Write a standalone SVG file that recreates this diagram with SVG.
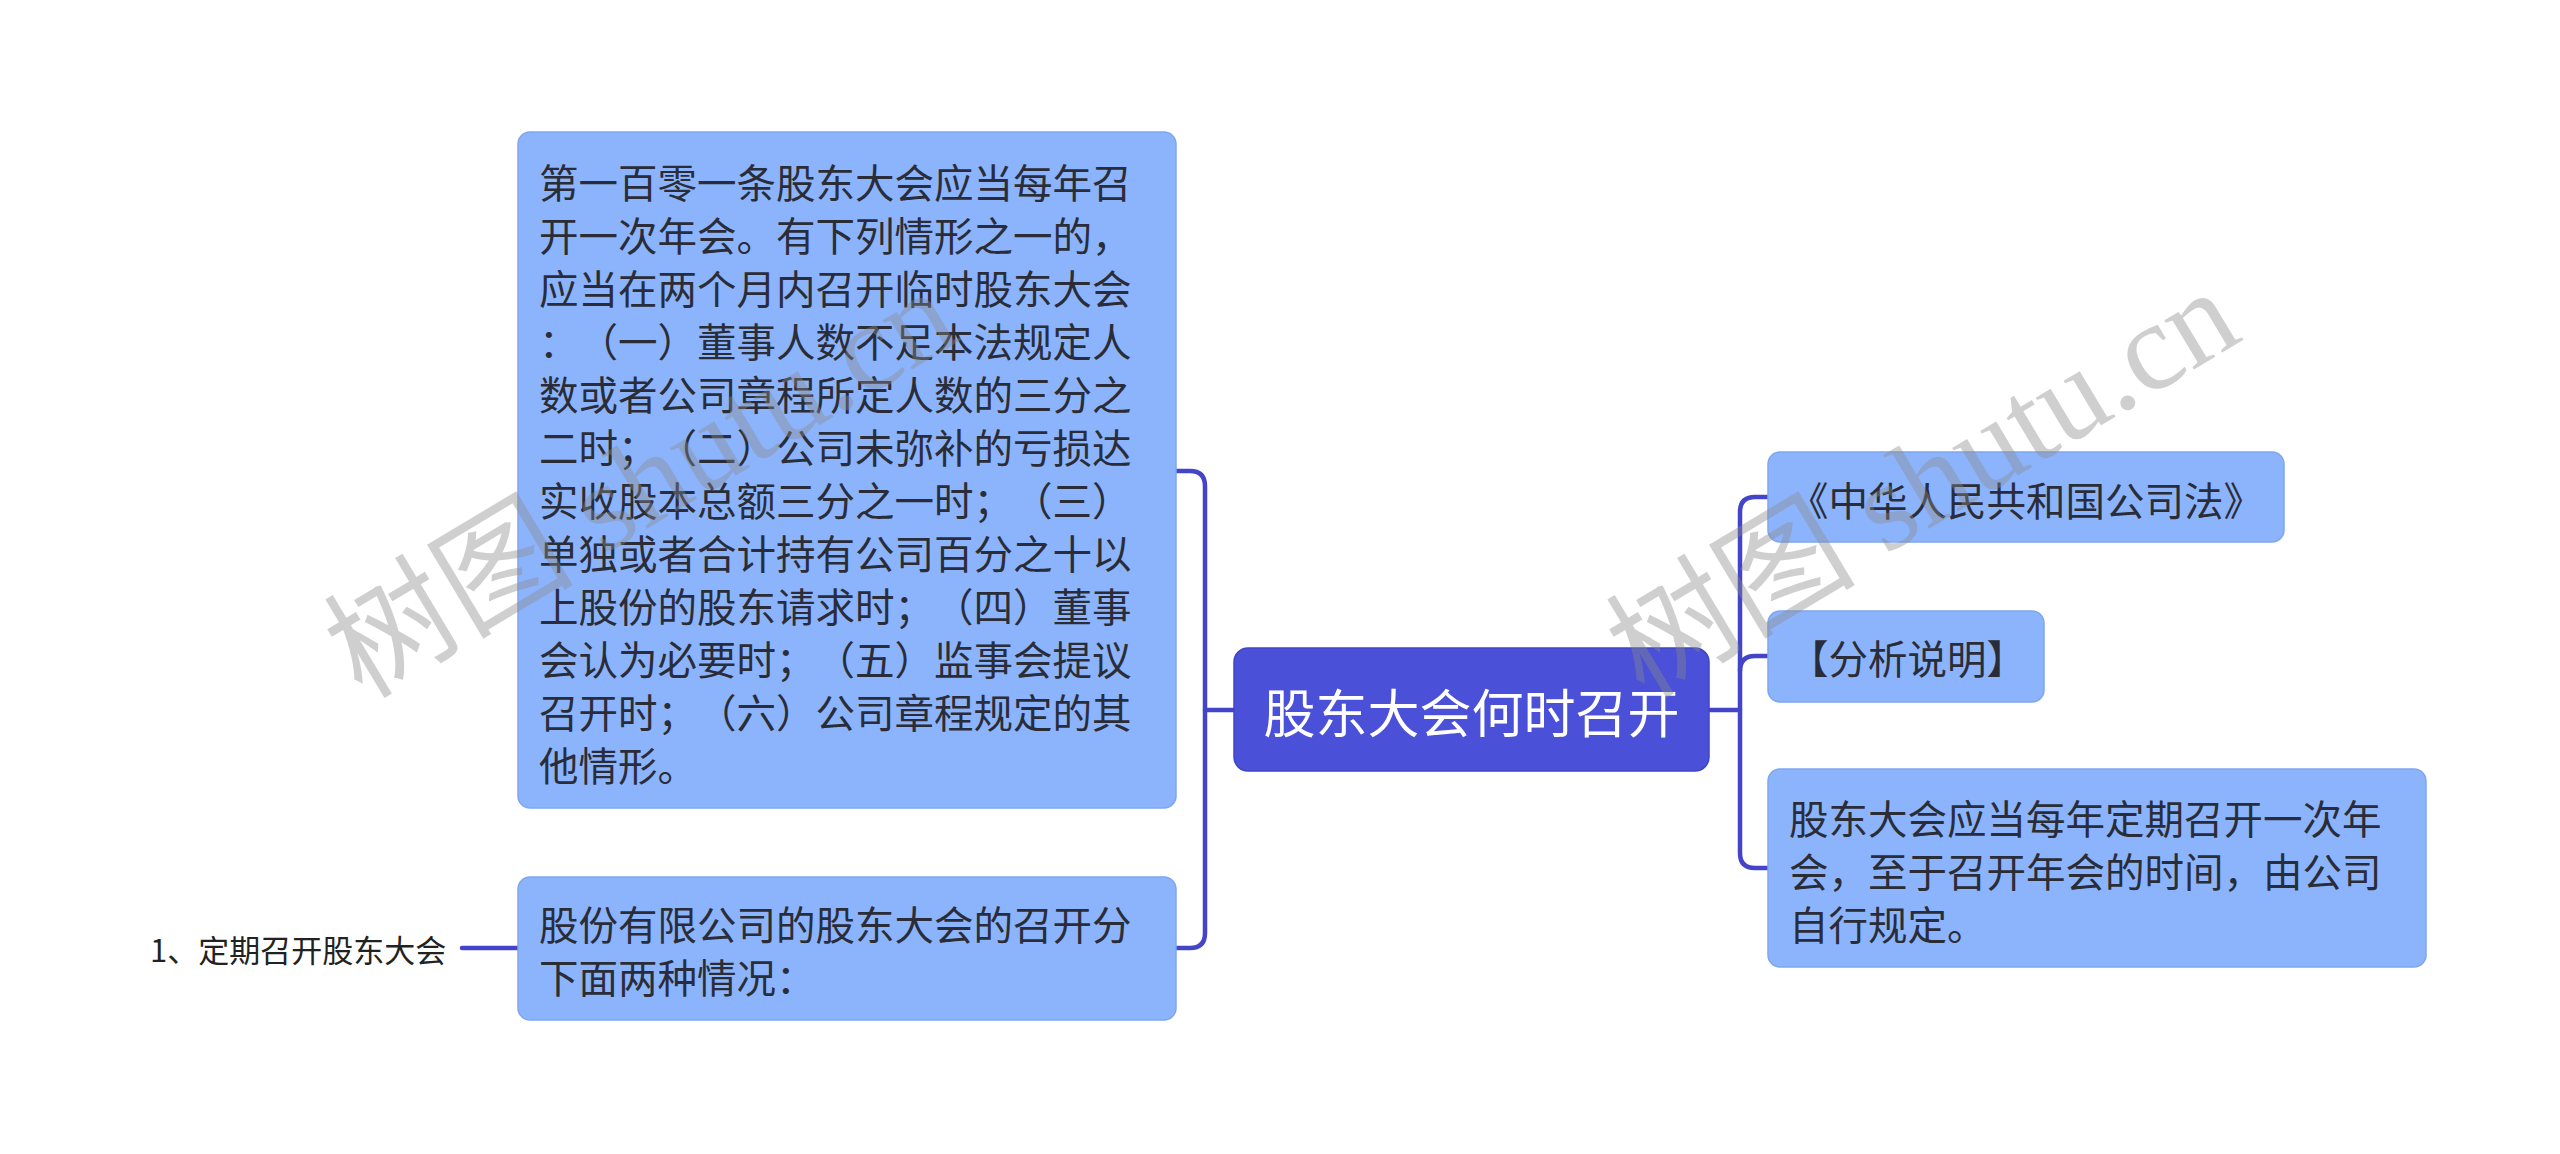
<svg xmlns="http://www.w3.org/2000/svg" width="2560" height="1154" viewBox="0 0 2560 1154">
<defs>
<style>
.box{fill:#8cb4fc;stroke:#7fa6ee;stroke-width:1.5}
.root{fill:#4a50d8;stroke:#3f45c8;stroke-width:1.5}
text{text-spacing-trim:space-all;font-kerning:none}
.t{font-family:"Noto Sans CJK SC","Noto Sans",sans-serif;font-size:39.5px;fill:#2a2d38;dominant-baseline:central}
.rt{font-family:"Noto Sans CJK SC","Noto Sans",sans-serif;font-size:52px;fill:#ffffff;dominant-baseline:central;text-anchor:middle}
.lbl{font-family:"Noto Sans CJK SC","Noto Sans",sans-serif;font-size:31px;fill:#222;dominant-baseline:central}
.con{fill:none;stroke:#4444c8;stroke-width:4.5;stroke-linecap:round;stroke-linejoin:round}
.wm{font-family:"Liberation Serif","Noto Sans CJK SC",serif;font-size:125px;fill:#8a8a8a;opacity:0.4}
</style>
</defs>
<rect width="2560" height="1154" fill="#ffffff"/>
<g id="connectors">
<path class="con" d="M1234,710 H1205"/>
<path class="con" d="M1176,471 H1190 Q1205,471 1205,486 V933 Q1205,948 1190,948 H1176"/>
<path class="con" d="M462,948 H518"/>
<path class="con" d="M1709,710 H1740"/>
<path class="con" d="M1768,497 H1755 Q1740,497 1740,512 V853 Q1740,868 1755,868 H1768"/>
<path class="con" d="M1740,671 Q1740,656 1755,656 H1768"/>
</g>
<g id="root">
<rect class="root" x="1234" y="648" width="475" height="123" rx="14"/>
<text class="rt" x="1471.5" y="710">股东大会何时召开</text>
</g>
<g id="node-article">
<rect class="box" x="518" y="132" width="658" height="676" rx="12"/>
<text class="t" x="539" y="180">第一百零一条股东大会应当每年召</text>
<text class="t" x="539" y="233">开一次年会。有下列情形之一的，</text>
<text class="t" x="539" y="286">应当在两个月内召开临时股东大会</text>
<text class="t" x="539" y="339">：（一）董事人数不足本法规定人</text>
<text class="t" x="539" y="392">数或者公司章程所定人数的三分之</text>
<text class="t" x="539" y="445">二时；（二）公司未弥补的亏损达</text>
<text class="t" x="539" y="498">实收股本总额三分之一时；（三）</text>
<text class="t" x="539" y="551">单独或者合计持有公司百分之十以</text>
<text class="t" x="539" y="604">上股份的股东请求时；（四）董事</text>
<text class="t" x="539" y="657">会认为必要时；（五）监事会提议</text>
<text class="t" x="539" y="710">召开时；（六）公司章程规定的其</text>
<text class="t" x="539" y="763">他情形。</text>
</g>
<g id="node-cases">
<rect class="box" x="518" y="877" width="658" height="143" rx="12"/>
<text class="t" x="539" y="922">股份有限公司的股东大会的召开分</text>
<text class="t" x="539" y="975">下面两种情况：</text>
</g>
<g id="node-regular">
<text class="lbl" x="150" y="948">1、定期召开股东大会</text>
</g>
<g id="node-law">
<rect class="box" x="1768" y="452" width="516" height="90" rx="12"/>
<text class="t" x="1789" y="498">《中华人民共和国公司法》</text>
</g>
<g id="node-analysis">
<rect class="box" x="1768" y="611" width="276" height="91" rx="12"/>
<text class="t" x="1789" y="656">【分析说明】</text>
</g>
<g id="node-explain">
<rect class="box" x="1768" y="769" width="658" height="198" rx="12"/>
<text class="t" x="1789" y="816">股东大会应当每年定期召开一次年</text>
<text class="t" x="1789" y="869">会，至于召开年会的时间，由公司</text>
<text class="t" x="1789" y="922">自行规定。</text>
</g>
<g id="watermarks">
<text class="wm" x="362" y="700" transform="rotate(-31 362 700)">树图 shutu.cn</text>
<text class="wm" x="1644" y="700" transform="rotate(-31 1644 700)">树图 shutu.cn</text>
</g>
</svg>
